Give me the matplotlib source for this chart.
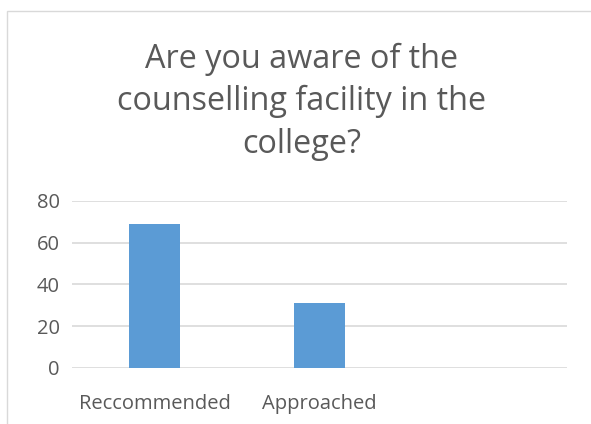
import matplotlib.pyplot as plt
from matplotlib.patches import Rectangle

categories = ["Reccommended", "Approached", ""]
values = [69, 31, 0]
yticks = [0, 20, 40, 60, 80]
title = "Are you aware of the\ncounselling facility in the\ncollege?"

W, H = 591, 424
plt.rcParams['font.family'] = ['Open Sans', 'DejaVu Sans']
text_color = "#595959"
grid_color = "#d9d9d9"
bar_color = "#5b9bd5"

fig = plt.figure(figsize=(W / 100, H / 100), dpi=100)

# chart frame (runs off the right and bottom edges)
fig.add_artist(Rectangle((7 / W, -0.1), 590 / W, (H - 11) / H + 0.1,
                         transform=fig.transFigure, fill=False,
                         edgecolor=grid_color, linewidth=1))

ax = fig.add_axes([72 / W, (H - 367.7) / H, (566.7 - 72) / W, (367.7 - 201) / H])
x = list(range(len(categories)))
ax.bar(x[:2], values[:2], width=0.31, color=bar_color, zorder=3)
ax.set_xlim(-0.5, 2.5)
ax.set_ylim(0, 80)
ax.set_yticks(yticks)
ax.set_xticks(x)
ax.set_xticklabels(categories)
for y in yticks:
    ax.axhline(y, color=grid_color, linewidth=1.2, zorder=1)
for s in ax.spines.values():
    s.set_visible(False)
ax.tick_params(length=0, labelsize=14.5, colors=text_color)
ax.tick_params(axis='x', pad=19)
ax.tick_params(axis='y', pad=9)

# multi-line baseline anchors the last line
fig.text(302 / W, 1 - 153 / H, title, ha='center', va='baseline', fontsize=23.3,
         color=text_color, linespacing=1.38)

fig.savefig("out.png", dpi=100)
